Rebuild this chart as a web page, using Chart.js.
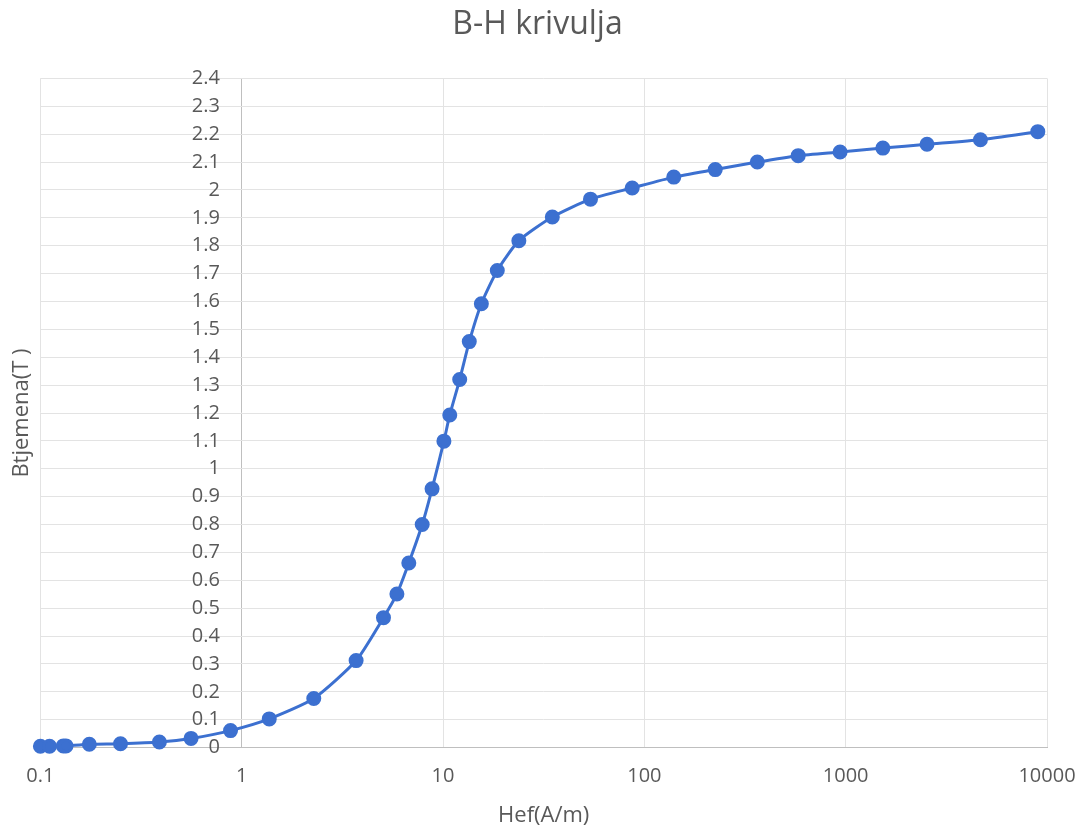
<!DOCTYPE html>
<html>
<head>
<meta charset="utf-8">
<title>B-H krivulja</title>
<script src="https://cdn.jsdelivr.net/npm/chart.js@4.4.1/dist/chart.umd.min.js"></script>
<style>
  body { margin: 0; background: #fff; }
  #wrap { width: 1085px; height: 829px; }
</style>
</head>
<body>
<div id="wrap"><canvas id="grafico"></canvas></div>
<script>
    const hValues = [0.1, 0.111, 0.13, 0.134, 0.175, 0.25, 0.39, 0.56, 0.88, 1.37, 2.28, 3.7, 5.06, 5.9, 6.76,
      7.88, 8.82, 10.1, 10.8, 12.1, 13.5, 15.5, 18.6, 23.8, 34.9, 54, 87, 140, 225, 364, 581, 938, 1530, 2535, 4670, 9000];
    const bValues = [0.005, 0.005, 0.006, 0.006, 0.012, 0.014, 0.02, 0.033, 0.061, 0.103, 0.176, 0.312, 0.466, 0.551, 0.662,
      0.8, 0.928, 1.099, 1.193, 1.32, 1.456, 1.592, 1.711, 1.818, 1.903, 1.967, 2.007, 2.046, 2.073, 2.1, 2.123, 2.136, 2.15, 2.164, 2.18, 2.209];
    const xTicks = [0.1, 1, 10, 100, 1000, 10000];
    const yTicks = [0, 0.1, 0.2, 0.3, 0.4, 0.5, 0.6, 0.7, 0.8, 0.9, 1, 1.1, 1.2, 1.3, 1.4, 1.5, 1.6, 1.7, 1.8, 1.9, 2, 2.1, 2.2, 2.3, 2.4];
    const cruceEjes = 1; // el eje vertical cruza en H = 1

    const gris = '#595959';
    const azul = '#3c70d0';
    const lineaSuave = '#e3e3e3';
    const lineaEje = '#bfbfbf';

    const puntos = hValues.map((h, i) => ({x: h, y: bValues[i]}));

    const ctx = document.getElementById('grafico').getContext('2d');
    const grafico = new Chart(ctx, {
      type: 'line',
      data: {
        datasets: [{
          data: puntos,
          borderColor: azul,
          backgroundColor: azul,
          borderWidth: 3,
          pointRadius: 6,
          pointHoverRadius: 6,
          tension: 0.2,
          clip: false,
          yAxisID: 'y'
        }]
      },
      options: {
        responsive: true,
        maintainAspectRatio: false,
        animation: false,
        layout: {padding: {left: 20, right: 30, top: 0, bottom: 0}},
        font: {family: 'Open Sans'},
        plugins: {
          legend: {display: false},
          tooltip: {enabled: false},
          title: {
            display: true,
            text: 'B-H krivulja',
            color: gris,
            font: {family: 'Open Sans', size: 32, weight: 'normal'},
            padding: {top: 6, bottom: 34}
          }
        },
        scales: {
          x: {
            type: 'logarithmic',
            min: 0.1,
            max: 10000,
            afterBuildTicks: s => { s.ticks = xTicks.map(v => ({value: v})); },
            // margen derecho fijo para que el area llegue hasta 10000 como en la original
            afterFit: s => { s.paddingRight = 38; },
            ticks: {
              color: gris,
              font: {family: 'Open Sans', size: 20},
              padding: 17,
              maxRotation: 0,
              callback: v => String(v)
            },
            // la linea en H = 1 hace de eje vertical
            grid: {
              color: c => (c.tick && c.tick.value === cruceEjes) ? lineaEje : lineaSuave,
              drawTicks: false
            },
            border: {color: lineaEje, width: 1},
            title: {
              display: true,
              text: 'Hef(A/m)',
              color: gris,
              font: {family: 'Open Sans', size: 22},
              padding: {top: -3, bottom: 0}
            }
          },
          y: {
            type: 'linear',
            position: {x: 0.78},
            min: 0,
            max: 2.4,
            afterBuildTicks: s => { s.ticks = yTicks.map(v => ({value: v})); },
            ticks: {
              color: gris,
              font: {family: 'Open Sans', size: 20},
              callback: v => String(+v.toFixed(1))
            },
            grid: {color: lineaSuave, drawTicks: false},
            border: {display: false}
          },
          // eje solo para el titulo vertical a la izquierda
          yTitulo: {
            type: 'linear',
            position: 'left',
            min: 0,
            max: 2.4,
            ticks: {display: false},
            grid: {display: false, drawTicks: false},
            border: {display: false},
            title: {
              display: true,
              text: 'Btjemena(T )',
              color: gris,
              font: {family: 'Open Sans', size: 22},
              padding: {top: -11, bottom: 5}
            }
          }
        }
      }
    });
</script>
</body>
</html>
